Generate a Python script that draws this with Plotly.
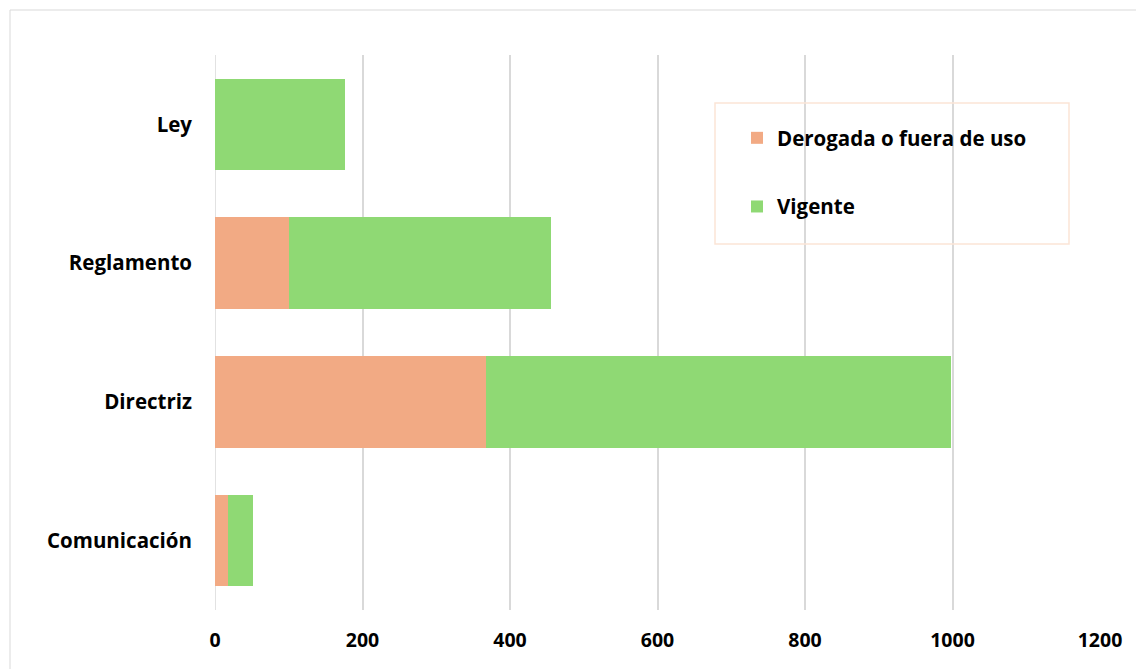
import plotly.graph_objects as go

categories = ["Comunicación", "Directriz", "Reglamento", "Ley"]
derogada = [17, 368, 100, 0]
vigente = [35, 630, 356, 176]
x_ticks = [0, 200, 400, 600, 800, 1000, 1200]

W, H = 1136, 669
L, R, T, B = 215, 36, 55, 59
pw, ph = W - L - R, H - T - B

def px(x):
    return (x - L) / pw

def py(y):
    return 1 - (y - T) / ph

font_family = "'Open Sans', Lato, sans-serif"

fig = go.Figure()
fig.add_trace(go.Bar(
    y=categories, x=derogada, orientation="h", name="<b>Derogada o fuera de uso</b>",
    marker=dict(color="#F2AA84", line=dict(width=0)), legendgroup="a",
))
fig.add_trace(go.Bar(
    y=categories, x=vigente, orientation="h", name="<b>Vigente</b>",
    marker=dict(color="#8FD974", line=dict(width=0)), legendgroup="b",
))

fig.update_layout(
    width=W, height=H,
    barmode="stack", bargap=0.34,
    margin=dict(l=L, r=R, t=T, b=B, autoexpand=False),
    plot_bgcolor="white", paper_bgcolor="white",
    font=dict(family=font_family, color="black"),
    legend=dict(
        x=px(737), y=py(118), xanchor="left", yanchor="top",
        bgcolor="rgba(0,0,0,0)", borderwidth=0,
        font=dict(size=20.5, family=font_family, color="black"),
        traceorder="grouped", tracegroupgap=39,
        itemclick=False,
    ),
    xaxis=dict(
        range=[0, 1200], tickvals=x_ticks, ticktext=[f"<b>{v}</b>" for v in x_ticks],
        showgrid=True, gridcolor="#D9D9D9", gridwidth=1.5,
        zeroline=False, showline=False, ticks="",
        tickfont=dict(size=19.5, family=font_family, color="black"),
        ticklabelstandoff=16,
    ),
    yaxis=dict(
        categoryorder="array", categoryarray=categories,
        tickvals=categories, ticktext=[f"<b>{c}</b>" for c in categories],
        showgrid=False, zeroline=False, showline=False, ticks="",
        tickfont=dict(size=20.5, family=font_family, color="black"),
        ticklabelstandoff=22,
    ),
    shapes=[
        dict(type="line", xref="x", yref="paper", x0=0, x1=0, y0=0, y1=1,
             line=dict(color="#D9D9D9", width=1.5), layer="below"),
        dict(type="rect", xref="paper", yref="paper",
             x0=px(10), x1=px(1140), y0=py(675), y1=py(10),
             line=dict(color="#D9D9D9", width=1), fillcolor="rgba(0,0,0,0)"),
        dict(type="rect", xref="paper", yref="paper",
             x0=px(715), x1=px(1069), y0=py(244), y1=py(103),
             line=dict(color="#FBE5D6", width=1.5), fillcolor="rgba(0,0,0,0)"),
    ],
)

fig.write_html("out.html", config={"displayModeBar": False},
               post_script="document.body.style.margin='0';")
